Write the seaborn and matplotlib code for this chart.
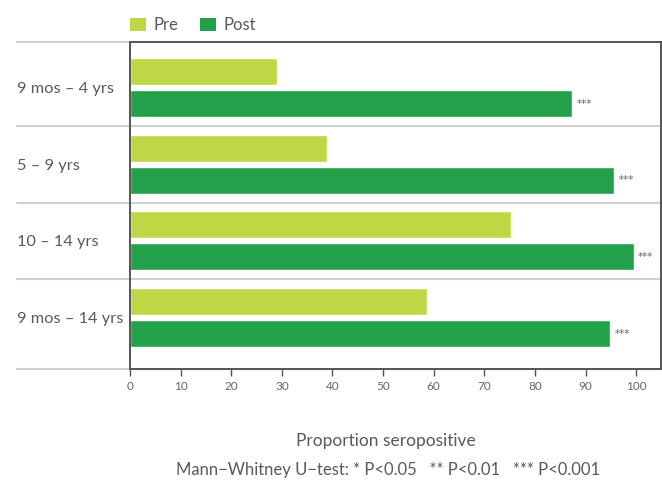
import matplotlib
matplotlib.use("Agg")
import matplotlib.pyplot as plt
from matplotlib.patches import Patch
import seaborn as sns
import pandas as pd

# Seropositivity before and after, by age group
age_groups = ["9 mos – 4 yrs", "5 – 9 yrs", "10 – 14 yrs", "9 mos – 14 yrs"]
pre_values = [29.1, 38.9, 75.2, 58.6]
post_values = [87.4, 95.7, 99.5, 94.9]
significance = ["***", "***", "***", "***"]
timepoints = ["Pre", "Post"]
x_ticks = [0, 10, 20, 30, 40, 50, 60, 70, 80, 90, 100]

colors = {"Pre": "#bfd744", "Post": "#23a14a"}
text_gray = "#5a5a5a"
frame_gray = "#555555"
grid_gray = "#d0d0d0"

sns.set_theme(style="white")
plt.rcParams["font.family"] = ["Lato", "DejaVu Sans"]

df = pd.DataFrame({
    "Age group": age_groups * 2,
    "Timepoint": ["Pre"] * len(age_groups) + ["Post"] * len(age_groups),
    "Proportion": pre_values + post_values,
})

fig = plt.figure(figsize=(6.62, 4.84), dpi=100)
ax = fig.add_axes([130 / 662, 115 / 484, 531 / 662, 327 / 484])

sns.barplot(data=df, y="Age group", x="Proportion", hue="Timepoint",
            hue_order=timepoints, order=age_groups, palette=colors,
            orient="h", width=0.835, gap=0.16, saturation=1,
            legend=False, ax=ax, zorder=3)

ax.set_xlim(0, 104.9)
ax.set_ylim(3.67, -0.593)

# Separator lines, extending out under the category labels
for y in [-0.593, 0.5, 1.5, 2.5, 3.67]:
    ax.plot([-0.2128, 1], [y, y], transform=ax.get_yaxis_transform(),
            color=grid_gray, lw=1.5, clip_on=False, zorder=1)

for side in ["left", "right", "top", "bottom"]:
    ax.spines[side].set_visible(True)
    ax.spines[side].set_color(frame_gray)
    ax.spines[side].set_linewidth(1.4)
    ax.spines[side].set_zorder(5)

ax.set_xticks(x_ticks)
ax.set_xticklabels([str(t) for t in x_ticks])
ax.tick_params(axis="x", bottom=True, length=5, width=1, color=frame_gray,
               labelsize=8.5, labelcolor="#666666", pad=4)
ax.tick_params(axis="y", left=False, length=0, pad=81.4,
               labelsize=11.8, labelcolor=text_gray)
for lbl in ax.get_yticklabels():
    lbl.set_horizontalalignment("left")

ax.set_xlabel("")
ax.set_ylabel("")

# Significance marks beside the post bars
offset = 0.209
for i, (v, s) in enumerate(zip(post_values, significance)):
    ax.text(v + 0.9, i + offset, s, ha="left", va="center",
            fontsize=7.5, color="#666666", zorder=6, family="DejaVu Sans")

handles = [Patch(facecolor=colors[t], edgecolor="none", label=t) for t in timepoints]
fig.legend(handles=handles, loc="upper left", bbox_to_anchor=(115 / 662, 1 - 2 / 484),
           ncol=2, frameon=False, fontsize=12, handlelength=0.95, handleheight=0.8,
           handletextpad=0.45, columnspacing=1.3, labelcolor=text_gray)

fig.text(386 / 662, 1 - 441 / 484, "Proportion seropositive", ha="center",
         va="center", fontsize=12.5, color=text_gray)
fig.text(388 / 662, 1 - 470 / 484,
         "Mann\u2212Whitney U\u2212test: * P<0.05   ** P<0.01   *** P<0.001",
         ha="center", va="center", fontsize=12, color=text_gray)

fig.savefig("out.png", dpi=100)
